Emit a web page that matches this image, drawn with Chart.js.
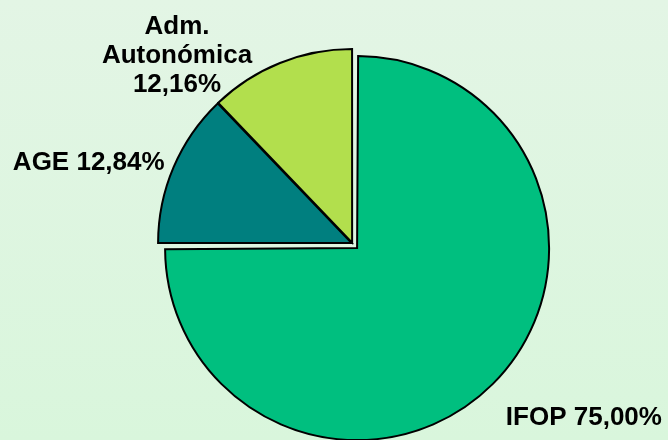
<!DOCTYPE html>
<html>
<head>
<meta charset="utf-8">
<script src="https://cdn.jsdelivr.net/npm/chart.js@4"></script>
<style>
  html, body { margin: 0; padding: 0; }
  #wrap { width: 668px; height: 440px; }
</style>
</head>
<body>
<div id="wrap"><canvas id="chart"></canvas></div>
<script>
// data
const categories = ['IFOP', 'AGE', 'Adm. Autonómica'];
const shares = [75.00, 12.84, 12.16];
const labelLines = [['IFOP 75,00%'], ['AGE 12,84%'], ['Adm.', 'Autonómica', '12,16%']];

const colors = ['#00BF7F', '#007F7F', '#B2DF4D'];
const explode = [26, 4, 4];
const sliceRadius = [192, 193.5, 193.5];
// label nudges from the slice's outer mid point
const labelStyle = [
  { align: 'left', dx: 13, dy: 34 },
  { align: 'right', dx: -9, dy: -4 },
  { align: 'center', dx: -103, dy: -7 }
];

// chart.js moves an exploded arc by offset/4 and grows it by offset/4 * fix
function fixOf(arc) {
  return 1 - Math.sin(Math.min(Math.PI, arc.endAngle - arc.startAngle));
}

const trimRadius = {
  id: 'trimRadius',
  afterDatasetsUpdate(chart) {
    chart.getDatasetMeta(0).data.forEach((arc, i) => {
      arc.outerRadius = sliceRadius[i] - explode[i] / 4 * fixOf(arc);
    });
  }
};

const background = {
  id: 'background',
  beforeDraw(chart) {
    const ctx = chart.ctx;
    const g = ctx.createLinearGradient(0, 0, 0, chart.height);
    g.addColorStop(0, '#E3F5E5');
    g.addColorStop(1, '#D9F6DC');
    ctx.save();
    ctx.fillStyle = g;
    ctx.fillRect(0, 0, chart.width, chart.height);
    ctx.restore();
  }
};

const outsideLabels = {
  id: 'outsideLabels',
  afterDraw(chart) {
    const ctx = chart.ctx;
    const meta = chart.getDatasetMeta(0);
    ctx.save();
    ctx.font = 'bold 26px "Liberation Sans", Arial, sans-serif';
    ctx.fillStyle = '#000';
    ctx.textBaseline = 'middle';
    meta.data.forEach((arc, i) => {
      const mid = (arc.startAngle + arc.endAngle) / 2;
      const r = sliceRadius[i] + explode[i] / 4;
      const s = labelStyle[i];
      const x = arc.x + Math.cos(mid) * r + s.dx;
      const y = arc.y + Math.sin(mid) * r + s.dy;
      const lines = labelLines[i];
      const lh = 29;
      ctx.textAlign = s.align;
      lines.forEach((t, k) => {
        ctx.fillText(t, x, y + (k - (lines.length - 1) / 2) * lh);
      });
    });
    ctx.restore();
  }
};

new Chart(document.getElementById('chart'), {
  type: 'pie',
  data: {
    labels: categories,
    datasets: [{
      data: shares,
      backgroundColor: colors,
      borderColor: '#000',
      borderWidth: 2,
      borderJoinStyle: 'miter',
      offset: explode
    }]
  },
  options: {
    responsive: true,
    maintainAspectRatio: false,
    animation: false,
    radius: 193,
    layout: { padding: { left: 37, right: 0, top: 47, bottom: 0 } },
    plugins: {
      legend: { display: false },
      tooltip: { enabled: false }
    }
  },
  plugins: [trimRadius, background, outsideLabels]
});
</script>
</body>
</html>
